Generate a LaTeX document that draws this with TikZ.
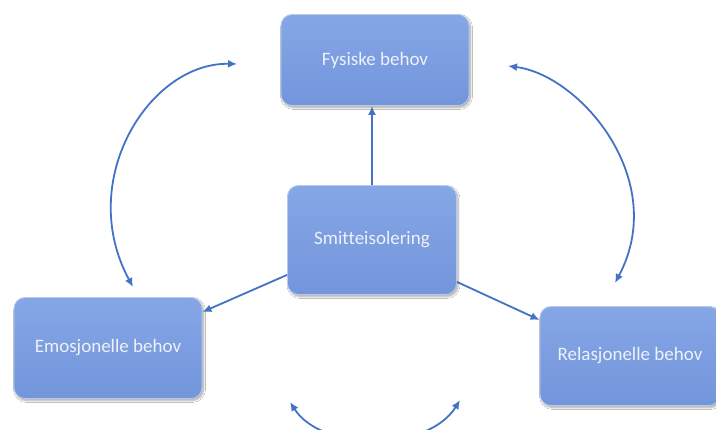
\documentclass[tikz,border=0pt]{standalone}
\usepackage{fontspec}
\setmainfont{Carlito}[Ligatures={NoCommon}]
\usetikzlibrary{arrows.meta,shadows.blur}
\definecolor{boxtop}{HTML}{86A7E6}
\definecolor{boxmid}{HTML}{7C9EE1}
\definecolor{boxbot}{HTML}{7395DA}
\definecolor{arr}{HTML}{4472C4}
\definecolor{txt}{HTML}{EDF1FA}
\begin{document}
\begin{tikzpicture}[x=1pt,y=-1pt,
  boxnode/.style={rectangle,rounded corners=11pt,top color=boxtop,bottom color=boxbot,middle color=boxmid,
    draw=boxtop!60!white,line width=0.8pt,text=txt,font=\fontsize{19}{22}\selectfont,
    blur shadow={shadow blur steps=8,shadow xshift=1.5pt,shadow yshift=-2pt,shadow opacity=35}},
  conn/.style={draw=arr,line width=1.8pt,-{Latex[length=9pt,width=8pt]}},
  bothway/.style={draw=arr,line width=1.8pt,{Latex[length=9pt,width=8pt]}-{Latex[length=9pt,width=8pt]}}]
\useasboundingbox (0,0) rectangle (716,430);
\fill[white] (0,0) rectangle (716,430);
\node[boxnode,minimum width=188pt,minimum height=91pt] (fys) at (375,60) {Fysiske behov};
\node[boxnode,minimum width=169pt,minimum height=109pt] (smi) at (372,240) {Smitteisolering};
\node[boxnode,minimum width=188pt,minimum height=101pt] (emo) at (108,348) {Emosjonelle behov};
\node[boxnode,minimum width=180pt,minimum height=99pt] (rel) at (630,356) {Relasjonelle behov};
\draw[conn] (smi.north) -- (smi.north |- fys.south);
\draw[conn] (smi.south west) ++(0,-20) coordinate (s1) (s1) -- (emo.north east |- 0,312) coordinate (e1);
\draw[conn] (smi.south east) ++(0,-13) coordinate (s2) (s2) -- (rel.north west |- 0,320) coordinate (r1);
\coordinate (la) at (237,64);
\coordinate (lb) at (133,287);
\draw[bothway] (la) .. controls (150,62) and (75,180) .. (lb);
\coordinate (ra) at (508,66);
\coordinate (rb) at (615,283);
\draw[bothway] (ra) .. controls (580,75) and (670,180) .. (rb);
\coordinate (ba) at (290,402);
\coordinate (bb) at (460,400);
\draw[bothway] (ba) .. controls (322,452) and (428,452) .. (bb);
\end{tikzpicture}
\end{document}
